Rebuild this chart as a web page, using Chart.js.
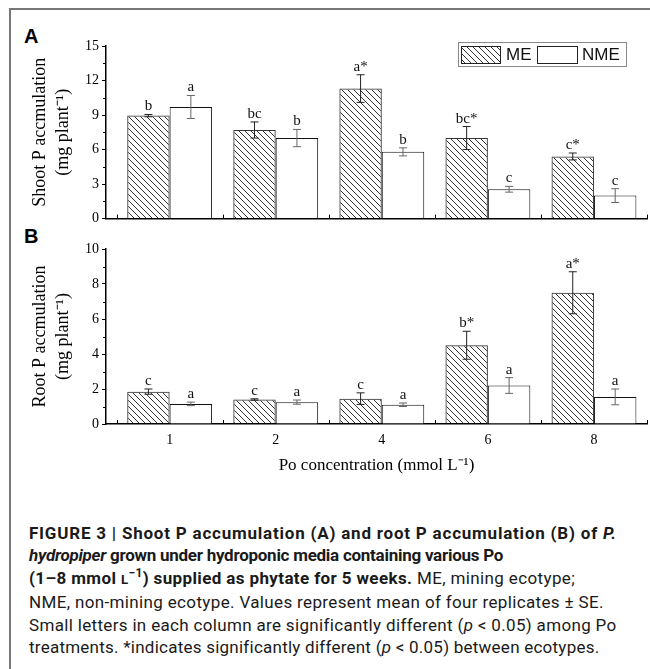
<!DOCTYPE html>
<html>
<head>
<meta charset="utf-8">
<script src="https://cdn.jsdelivr.net/npm/chart.js@4.4.1/dist/chart.umd.min.js"></script>
<style>
  html, body { margin: 0; padding: 0; background: #fff; }
  body { width: 650px; height: 669px; position: relative; overflow: hidden; }
  #frame { position: absolute; left: 9px; top: 8px; width: 700px; height: 700px;
           border-top: 2px solid #777; border-left: 2px solid #777; }
  .panel { position: absolute; left: 24px; font: bold 20px "Liberation Sans", Arial, sans-serif; line-height: 20px; }
  #wrapA { position: absolute; left: 0; top: 0; width: 650px; height: 230px; }
  #wrapB { position: absolute; left: 0; top: 230px; width: 650px; height: 260px; }
  #caption { position: absolute; left: 29px; top: 522px; color: #1a1a1a;
             font-family: Roboto, "Liberation Sans", sans-serif; font-size: 17px; line-height: 22.4px; }
  #caption div { white-space: nowrap; }
  #caption sup { font-size: 70%; line-height: 0; vertical-align: 0.55em; }
  #caption .sc { font-size: 78%; }
</style>
</head>
<body>
<div id="frame"></div>
<div class="panel" style="top:26px">A</div>
<div class="panel" style="top:226px">B</div>
<div id="wrapA"><canvas id="chartA" width="650" height="230"></canvas></div>
<div id="wrapB"><canvas id="chartB" width="650" height="260"></canvas></div>
<div id="caption">
  <div><b>FIGURE 3 | Shoot P accumulation (A) and root P accumulation (B) of <i>P.</i></b></div>
  <div><b><i>hydropiper</i> grown under hydroponic media containing various Po</b></div>
  <div><b>(1–8 mmol <span class="sc">L</span><sup>−1</sup>) supplied as phytate for 5 weeks.</b> ME, mining ecotype;</div>
  <div>NME, non-mining ecotype. Values represent mean of four replicates ± SE.</div>
  <div>Small letters in each column are significantly different (<i>p</i> &lt; 0.05) among Po</div>
  <div>treatments. *indicates significantly different (<i>p</i> &lt; 0.05) between ecotypes.</div>
</div>

<script>
// Po concentrations (mmol L-1)
const concentrations = ["1", "2", "4", "6", "8"];

// panel A - shoot P accumulation (mg plant-1)
const shootME = [8.95, 7.7, 11.3, 7.0, 5.4];
const shootMEErr = [0.1, 0.7, 1.2, 1.0, 0.3];
const shootNME = [9.7, 7.0, 5.8, 2.55, 2.0];
const shootNMEErr = [1.0, 0.75, 0.35, 0.25, 0.6];
const shootMELetters = ["b", "bc", "a*", "bc*", "c*"];
const shootNMELetters = ["a", "b", "b", "c", "c"];
const shootTicks = [0, 3, 6, 9, 12, 15];

// panel B - root P accumulation (mg plant-1)
const rootME = [1.85, 1.4, 1.45, 4.5, 7.5];
const rootMEErr = [0.15, 0.04, 0.33, 0.8, 1.2];
const rootNME = [1.15, 1.25, 1.1, 2.2, 1.55];
const rootNMEErr = [0.1, 0.12, 0.1, 0.45, 0.45];
const rootMELetters = ["c", "c", "c", "b*", "a*"];
const rootNMELetters = ["a", "a", "a", "a", "a"];
const rootTicks = [0, 2, 4, 6, 8, 10];

const SERIF = '"Liberation Serif", "Times New Roman", serif';
const SANS = '"Liberation Sans", Arial, sans-serif';

function hatchPattern(ctx) {
  const s = 6;
  const c = document.createElement("canvas");
  c.width = s; c.height = s;
  const g = c.getContext("2d");
  g.strokeStyle = "#333";
  g.lineWidth = 1;
  g.beginPath();
  g.moveTo(0, 0); g.lineTo(s, s);
  g.moveTo(-1, s - 1); g.lineTo(1, s + 1);
  g.moveTo(s - 1, -1); g.lineTo(s + 1, 1);
  g.stroke();
  return ctx.createPattern(c, "repeat");
}

// error bars, letters, minor ticks, optional legend
const extras = {
  id: "extras",
  afterDatasetsDraw(chart, args, opts) {
    const ctx = chart.ctx;
    const x = chart.scales.x, y = chart.scales.y;
    ctx.save();

    chart.data.datasets.forEach((ds, di) => {
      const meta = chart.getDatasetMeta(di);
      meta.data.forEach((bar, i) => {
        const v = ds.data[i].y, e = ds.errors[i];
        const top = y.getPixelForValue(v + e), bot = y.getPixelForValue(v - e);
        ctx.strokeStyle = ds.errorColor;
        ctx.lineWidth = 1;
        ctx.beginPath();
        ctx.moveTo(bar.x, top); ctx.lineTo(bar.x, bot);
        ctx.moveTo(bar.x - 4, top); ctx.lineTo(bar.x + 4, top);
        ctx.moveTo(bar.x - 4, bot); ctx.lineTo(bar.x + 4, bot);
        ctx.stroke();

        ctx.fillStyle = "#111";
        ctx.font = "15px " + SERIF;
        ctx.textAlign = "center";
        ctx.textBaseline = "alphabetic";
        ctx.fillText(ds.letters[i], bar.x, top - 4);
      });
    });

    // minor ticks on y, outward
    ctx.strokeStyle = "#000";
    ctx.lineWidth = 1;
    ctx.beginPath();
    const t = opts.ticks;
    for (let i = 0; i < t.length - 1; i++) {
      const py = Math.round(y.getPixelForValue((t[i] + t[i + 1]) / 2)) + 0.5;
      ctx.moveTo(x.left - 3, py); ctx.lineTo(x.left, py);
    }
    // category boundary ticks on x, inward
    for (let i = 0; i <= concentrations.length; i++) {
      const px = Math.round(x.getPixelForValue(i - 0.5)) + 0.5;
      ctx.moveTo(px, y.bottom); ctx.lineTo(px, y.bottom - 4);
    }
    ctx.stroke();

    if (opts.legend) {
      ctx.strokeStyle = "#888";
      ctx.strokeRect(458.5, 42.5, 168, 24);
      ctx.fillStyle = chart.data.datasets[0].backgroundColor;
      ctx.fillRect(461, 46, 39, 17);
      ctx.strokeStyle = "#222";
      ctx.strokeRect(461.5, 46.5, 39, 17);
      ctx.fillStyle = "#fff";
      ctx.fillRect(537, 46, 40, 17);
      ctx.strokeRect(537.5, 46.5, 40, 17);
      ctx.fillStyle = "#111";
      ctx.font = "17px " + SANS;
      ctx.textAlign = "left";
      ctx.textBaseline = "middle";
      ctx.fillText(chart.data.datasets[0].label, 506, 55.5);
      ctx.fillText(chart.data.datasets[1].label, 582, 55.5);
    }
    ctx.restore();
  }
};

function makeChart(id, me, meErr, meLetters, nme, nmeErr, nmeLetters, ticks, yTitle, cfg) {
  const canvas = document.getElementById(id);
  const ctx = canvas.getContext("2d");
  return new Chart(ctx, {
    type: "bar",
    data: {
      datasets: [
        {
          label: "ME",
          data: me.map((v, i) => ({ x: i, y: v })),
          errors: meErr, letters: meLetters, errorColor: "#222",
          backgroundColor: hatchPattern(ctx),
          borderColor: "#333", borderWidth: 1,
          categoryPercentage: 0.8, barPercentage: 1.0,
        },
        {
          label: "NME",
          data: nme.map((v, i) => ({ x: i, y: v })),
          errors: nmeErr, letters: nmeLetters, errorColor: "#666",
          backgroundColor: "#fff",
          borderColor: "#111", borderWidth: 1,
          categoryPercentage: 0.8, barPercentage: 1.0,
        },
      ],
    },
    options: {
      responsive: false,
      animation: false,
      events: [],
      layout: { padding: { top: cfg.top, right: 3, left: 0, bottom: 0 } },
      plugins: {
        legend: { display: false },
        tooltip: { enabled: false },
        extras: { ticks: ticks, legend: cfg.legend },
      },
      scales: {
        x: {
          type: "linear",
          min: -0.6,
          max: 4.5,
          offset: false,
          afterBuildTicks: (s) => { s.ticks = concentrations.map((_, i) => ({ value: i })); },
          afterFit: (s) => { s.height = cfg.xHeight; },
          grid: { display: false, drawTicks: false },
          border: { color: "#000", width: 1.5 },
          ticks: {
            display: cfg.xLabels,
            padding: 8,
            color: "#000",
            font: { family: SERIF, size: 14 },
            callback: (v) => concentrations[v],
          },
          title: {
            display: cfg.xLabels,
            text: "Po concentration (mmol L⁻¹)",
            color: "#000",
            font: { family: SERIF, size: 17, lineHeight: 1.2 },
            padding: { top: 4, bottom: 14 },
          },
        },
        y: {
          min: ticks[0],
          max: ticks[ticks.length - 1],
          afterFit: (s) => { s.width = 106; },
          ticks: {
            stepSize: ticks[1] - ticks[0],
            padding: 3,
            color: "#000",
            font: { family: SERIF, size: 14 },
          },
          grid: { drawOnChartArea: false, tickLength: 4, color: "#000" },
          border: { color: "#000", width: 1.5 },
          title: {
            display: true,
            text: yTitle,
            color: "#000",
            font: { family: SERIF, size: 18, lineHeight: 1.28 },
            padding: { top: 29, bottom: 0 },
          },
        },
      },
    },
    plugins: [extras],
  });
}

makeChart("chartA", shootME, shootMEErr, shootMELetters, shootNME, shootNMEErr, shootNMELetters,
  shootTicks, ["Shoot P accmulation", "(mg plant⁻¹)"], { top: 46, xHeight: 8, xLabels: false, legend: true });

makeChart("chartB", rootME, rootMEErr, rootMELetters, rootNME, rootNMEErr, rootNMELetters,
  rootTicks, ["Root P accmulation", "(mg plant⁻¹)"], { top: 19, xHeight: 66, xLabels: true, legend: false });

// nudge each caption line to the width it has in the printed figure
const lineWidths = [616, 572, 613, 613, 613, 606];
document.querySelectorAll("#caption div").forEach((el, i) => {
  const w = el.getBoundingClientRect().width;
  const n = el.textContent.length;
  el.style.letterSpacing = ((lineWidths[i] - w) / n).toFixed(3) + "px";
});
</script>
</body>
</html>
